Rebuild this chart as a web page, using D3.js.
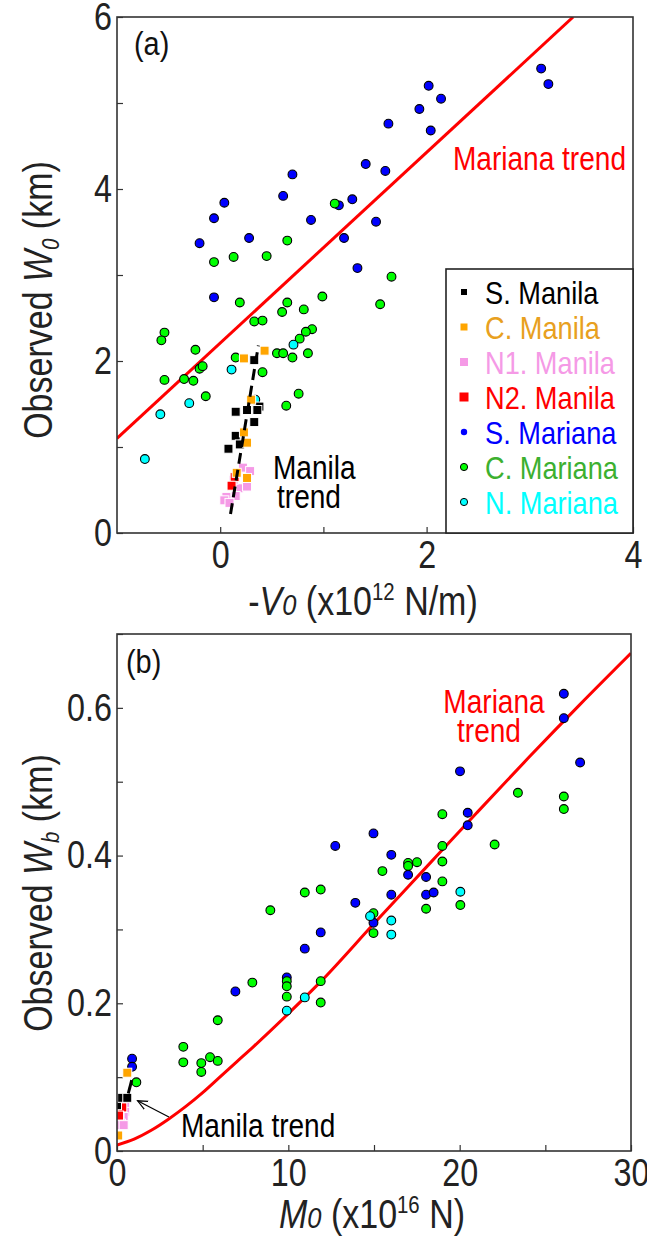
<!DOCTYPE html>
<html><head><meta charset="utf-8">
<script src="https://cdn.jsdelivr.net/npm/d3@7"></script>
<style>
body{margin:0;background:#fff}
svg{display:block}
text{font-family:'Liberation Sans',Arial,sans-serif}
</style>
</head><body>
<svg id="c" width="647" height="1236"></svg>
<script>
// ---------- Panel (a) data : -V0 (x10^12 N/m) vs observed W0 (km) ----------
const aSMarianaX = [-0.20,-0.06,0.04,0.28,0.61,0.70,0.88,1.15,1.20,1.28,1.41,1.33,1.51,3.11,3.18,2.02,2.14,1.93,1.63,2.04,1.60,-0.06];
const aSMarianaY = [3.37,3.66,3.84,3.43,3.92,4.17,3.64,3.81,3.43,3.88,4.29,3.08,3.62,5.40,5.22,5.20,5.05,4.93,4.76,4.68,4.21,2.74];
const aCMarianaX = [-0.06,0.13,0.45,0.65,1.11,1.66,0.19,0.65,0.60,0.81,0.99,1.55,0.33,0.41,-0.54,-0.57,-0.24,0.89,0.83,0.77,0.55,0.61,0.85,0.70,0.15,0.41,-0.20,-0.17,-0.35,-0.26,-0.54,-0.14,0.76,0.64];
const aCMarianaY = [3.15,3.21,3.22,3.40,3.83,2.98,2.68,2.68,2.57,2.60,2.75,2.66,2.46,2.47,2.33,2.24,2.13,2.37,2.34,2.26,2.09,2.09,2.09,2.04,2.04,1.87,1.91,1.94,1.79,1.77,1.78,1.59,1.62,1.48];
const aNMarianaX = [0.71,0.11,-0.30,-0.58,-0.73,0.34];
const aNMarianaY = [2.19,1.90,1.51,1.38,0.86,1.55];
const aSManilaX = [0.38,0.33,0.15,0.26,0.36,0.33,0.15,0.19,0.08];
const aSManilaY = [1.47,2.01,1.41,1.43,1.43,1.29,1.13,1.03,0.98];
const aCManilaX = [0.23,0.43,0.30,0.23,0.26,0.16,0.26];
const aCManilaY = [2.03,2.12,1.55,1.17,1.05,0.70,0.64];
const aN1ManilaX = [0.22,0.29,0.18,0.26,0.15,0.06,0.04,0.09,0.13];
const aN1ManilaY = [0.76,0.72,0.52,0.54,0.43,0.42,0.38,0.35,0.62];
const aN2ManilaX = [0.14,0.11];
const aN2ManilaY = [0.65,0.55];
const aMarianaTrendX = [-1.0, 3.42];
const aMarianaTrendY = [1.10, 6.0];
const aManilaTrendX = [0.10, 0.37];
const aManilaTrendY = [0.22, 2.18];

// ---------- Panel (b) data : M0 (x10^16 N) vs observed Wb (km) ----------
const bSMarianaX = [0.88,0.88,6.91,9.91,10.96,11.89,12.74,13.91,14.97,14.97,16.01,16.01,16.99,18.04,18.04,18.48,20.02,20.47,20.47,26.08,26.08,27.03];
const bSMarianaY = [0.125,0.114,0.216,0.235,0.274,0.296,0.413,0.336,0.430,0.309,0.401,0.347,0.374,0.371,0.347,0.350,0.514,0.458,0.441,0.619,0.586,0.526];
const bCMarianaX = [1.13,3.87,3.87,4.92,4.92,5.43,5.88,5.88,7.90,8.95,9.91,9.91,9.91,10.96,11.89,11.89,11.89,14.97,14.97,15.49,16.99,16.99,17.51,18.04,18.99,18.99,18.99,18.99,20.04,22.04,23.40,26.08,26.08];
const bCMarianaY = [0.093,0.141,0.120,0.119,0.107,0.127,0.122,0.177,0.228,0.326,0.230,0.223,0.209,0.350,0.354,0.230,0.201,0.322,0.295,0.379,0.390,0.386,0.391,0.328,0.392,0.365,0.456,0.413,0.333,0.415,0.485,0.480,0.463];
const bNMarianaX = [9.91,10.96,14.77,16.01,16.01,20.04];
const bNMarianaY = [0.190,0.208,0.318,0.312,0.293,0.351];
const bSManilaX = [0.0,0.3,0.6];
const bSManilaY = [0.062,0.072,0.072];
const bCManilaX = [0.60,0.07];
const bCManilaY = [0.106,0.021];
const bN1ManilaX = [0.48,0.48,0.39,0.24,0.02,0.39,0.15];
const bN1ManilaY = [0.063,0.053,0.046,0.037,0.035,0.035,0.050];
const bN2ManilaX = [0.31,0.12];
const bN2ManilaY = [0.059,0.048];
const bMarianaTrendX = [0,1,2,3,4,5,6,7,8,10,12,15,18,21,24,27,30];
const bMarianaTrendY = [0.008,0.016,0.028,0.043,0.060,0.079,0.100,0.121,0.142,0.186,0.232,0.308,0.383,0.458,0.532,0.604,0.674];
const bManilaTrendX = [0.66,0.86];
const bManilaTrendY = [0.078,0.096];
const bArrowX = [3.03,1.2];
const bArrowY = [0.046,0.068];

// ---------- Tick labels ----------
const aXTicks = [0,1,2,3,4];
const aXLabels = ["0","","2","","4"];
const aYTicks = [0,1,2,3,4,5,6];
const aYLabels = ["0","","2","","4","","6"];
const bXTicks = [0,5,10,15,20,25,30];
const bXLabels = ["0","","10","","20","","30"];
const bYTicks = [0,0.1,0.2,0.3,0.4,0.5,0.6,0.7];
const bYLabels = ["0","","0.2","","0.4","","0.6",""];

const legendNames = ["S. Manila","C. Manila","N1. Manila","N2. Manila","S. Mariana","C. Mariana","N. Mariana"];

// ---------- styles ----------
const COL = {sMan:"#000000", cMan:"#ffa500", n1Man:"#f59ae6", n2Man:"#ff0000", sMar:"#0000ff", cMar:"#00ff00", nMar:"#00ffff"};
const legendText = ["#000000","#e8a020","#f59ae6","#ff0000","#0000ff","#3cb030","#00ffff"];
const FS = 38;      // tick labels
const FT = 40;      // axis titles
const NARROW = 0.85;

const svg = d3.select("#c");
const defs = svg.append("defs");
defs.append("marker").attr("id","arrow").attr("viewBox","-10 -6 12 12").attr("refX",0).attr("refY",0)
  .attr("markerWidth",12).attr("markerHeight",12).attr("markerUnits","userSpaceOnUse").attr("orient","auto")
  .append("path").attr("d","M-10,-4.5 L0,0 L-10,4.5").attr("fill","none").attr("stroke","#000").attr("stroke-width",1.2);

function zip(xs, ys){ return xs.map((x,i)=>[x, ys[i]]); }

function panel(opt){
  const {x, y, id} = opt;
  const [x0,x1] = x.range(), [y0,y1] = y.range();
  defs.append("clipPath").attr("id","clip"+id).append("rect")
    .attr("x",x0).attr("y",y1).attr("width",x1-x0).attr("height",y0-y1);
  const g = svg.append("g");

  const ax = d3.axisBottom(x).tickValues(opt.xTicks).tickSize(-6).tickPadding(8)
    .tickFormat((d,i)=>opt.xLabels[i]);
  const gx = g.append("g").attr("transform",`translate(0,${y0})`).call(ax);
  const ay = d3.axisLeft(y).tickValues(opt.yTicks).tickSize(-6).tickPadding(5)
    .tickFormat((d,i)=>opt.yLabels[i]);
  const gy = g.append("g").attr("transform",`translate(${x0},0)`).call(ay);
  [gx,gy].forEach(a=>{
    a.select(".domain").remove();
    a.selectAll("line").attr("stroke","#333").attr("stroke-width",1.2);
    a.selectAll("text").attr("font-size",FS).attr("fill","#222")
      .style("font-family","'Liberation Sans',Arial,sans-serif");
  });

  const pg = g.append("g").attr("clip-path",`url(#clip${id})`);
  pg.append("path").datum(opt.marTrend)
    .attr("d", d3.line().x(d=>x(d[0])).y(d=>y(d[1])).curve(d3.curveMonotoneX))
    .attr("fill","none").attr("stroke","#ff0000").attr("stroke-width",3);

  const circ = (data, col) => pg.append("g").selectAll("circle").data(data).join("circle")
    .attr("cx",d=>x(d[0])).attr("cy",d=>y(d[1])).attr("r",4.4)
    .attr("fill",col).attr("stroke","#000").attr("stroke-width",1.1);
  circ(opt.sMar, COL.sMar);
  circ(opt.cMar, COL.cMar);
  circ(opt.nMar, COL.nMar);

  const sq = (data, col) => pg.append("g").selectAll("rect").data(data).join("rect")
    .attr("x",d=>x(d[0])-4.5).attr("y",d=>y(d[1])-4.5).attr("width",9).attr("height",9)
    .attr("fill",col).attr("stroke","#fff").attr("stroke-width",1);
  sq(opt.n1Man, COL.n1Man);
  sq(opt.n2Man, COL.n2Man);
  sq(opt.sMan, COL.sMan);
  sq(opt.cMan, COL.cMan);

  pg.append("path").datum(opt.manTrend)
    .attr("d", d3.line().x(d=>x(d[0])).y(d=>y(d[1])))
    .attr("fill","none").attr("stroke","#000").attr("stroke-width",3)
    .attr("stroke-dasharray", opt.dash);

  g.append("rect").attr("x",x0).attr("y",y1).attr("width",x1-x0).attr("height",y0-y1)
    .attr("fill","none").attr("stroke","#333").attr("stroke-width",1.6);
  return g;
}

// ---------- Panel (a) ----------
const xA = d3.scaleLinear().domain([-1,4]).range([117,633]);
const yA = d3.scaleLinear().domain([0,6]).range([533,17]);
panel({id:"a", x:xA, y:yA, xTicks:aXTicks, xLabels:aXLabels, yTicks:aYTicks, yLabels:aYLabels,
  marTrend: zip(aMarianaTrendX, aMarianaTrendY),
  manTrend: zip(aManilaTrendX, aManilaTrendY), dash:"11,6",
  sMar: zip(aSMarianaX,aSMarianaY), cMar: zip(aCMarianaX,aCMarianaY), nMar: zip(aNMarianaX,aNMarianaY),
  sMan: zip(aSManilaX,aSManilaY), cMan: zip(aCManilaX,aCManilaY), n1Man: zip(aN1ManilaX,aN1ManilaY), n2Man: zip(aN2ManilaX,aN2ManilaY)});

// ---------- Panel (b) ----------
const xB = d3.scaleLinear().domain([0,30]).range([117,631]);
const yB = d3.scaleLinear().domain([0,0.7]).range([1151,634]);
panel({id:"b", x:xB, y:yB, xTicks:bXTicks, xLabels:bXLabels, yTicks:bYTicks, yLabels:bYLabels,
  marTrend: zip(bMarianaTrendX, bMarianaTrendY),
  manTrend: zip(bManilaTrendX, bManilaTrendY), dash:null,
  sMar: zip(bSMarianaX,bSMarianaY), cMar: zip(bCMarianaX,bCMarianaY), nMar: zip(bNMarianaX,bNMarianaY),
  sMan: zip(bSManilaX,bSManilaY), cMan: zip(bCManilaX,bCManilaY), n1Man: zip(bN1ManilaX,bN1ManilaY), n2Man: zip(bN2ManilaX,bN2ManilaY)});

// ---------- Annotations ----------
const T = (x,y,txt,col,anchor,fs) => svg.append("text").attr("x",x).attr("y",y).attr("fill",col||"#000")
  .attr("font-size",fs||33).attr("text-anchor",anchor||"start").text(txt);

T(134,55,"(a)","#111",null,34);
T(126,673,"(b)","#111",null,34);
T(453,170,"Mariana trend","#ff0000");
T(273,479,"Manila","#000");
T(277,508,"trend","#000");
T(494,713,"Mariana","#ff0000","middle");
T(489,742,"trend","#ff0000","middle");
T(181,1137,"Manila trend","#000");
svg.append("line").attr("x1",xB(bArrowX[0])).attr("y1",yB(bArrowY[0])).attr("x2",xB(bArrowX[1])).attr("y2",yB(bArrowY[1]))
  .attr("stroke","#000").attr("stroke-width",1.2).attr("marker-end","url(#arrow)");

// ---------- Legend ----------
const lg = svg.append("g");
lg.append("rect").attr("x",446).attr("y",269).attr("width",187).attr("height",264)
  .attr("fill","#fff").attr("stroke","#222").attr("stroke-width",1.6);
const legCols = [COL.sMan,COL.cMan,COL.n1Man,COL.n2Man,COL.sMar,COL.cMar,COL.nMar];
const sqSize = [6,7,8,9];
legendNames.forEach((n,i)=>{
  const cy = 292 + i*35;
  if(i<4){
    lg.append("rect").attr("x",464-sqSize[i]/2).attr("y",cy-sqSize[i]/2).attr("width",sqSize[i]).attr("height",sqSize[i]).attr("fill",legCols[i]);
  } else {
    lg.append("circle").attr("cx",464).attr("cy",cy).attr("r",i===4?3.2:3.6).attr("fill",legCols[i])
      .attr("stroke",i===4?"none":"#000").attr("stroke-width",1);
  }
  lg.append("text").attr("x",485).attr("y",cy+12).attr("font-size",32).attr("fill",legendText[i]).text(n);
});

// ---------- Axis titles ----------
function yTitle(cx, cy, sub){
  const t = svg.append("text").attr("transform",`translate(${cx},${cy}) rotate(-90)`)
    .attr("text-anchor","middle").attr("font-size",FT).attr("fill","#222");
  t.append("tspan").text("Observed ");
  t.append("tspan").attr("font-style","italic").text("W");
  t.append("tspan").attr("font-style","italic").attr("font-size",FT*0.6).attr("dy",7).text(sub);
  t.append("tspan").attr("dy",-7).text(" (km)");
}
yTitle(52, 300, "0");
yTitle(52, 893, "b");

function xTitle(cx, y, pre, sym, sup, unit){
  const t = svg.append("text").attr("x",cx).attr("y",y).attr("text-anchor","middle").attr("font-size",FT).attr("fill","#222");
  if(pre) t.append("tspan").text(pre);
  t.append("tspan").attr("font-style","italic").text(sym);
  t.append("tspan").attr("font-style","italic").attr("font-size",FT*0.75).text("0");
  t.append("tspan").text(" (x10");
  t.append("tspan").attr("font-size",FT*0.6).attr("dy",-15).text(sup);
  t.append("tspan").attr("dy",15).text(unit);
}
xTitle(363, 615, "-", "V", "12", " N/m)");
xTitle(372, 1228, null, "M", "16", " N)");

// ---------- condense every text horizontally (narrow face look) ----------
svg.selectAll("text").each(function(){
  const s = d3.select(this);
  const x = +(s.attr("x")||0), y = +(s.attr("y")||0);
  const tr = s.attr("transform")||"";
  s.attr("x",null).attr("y",null)
   .attr("transform",`${tr} translate(${x},${y}) scale(${NARROW},1)`);
});
</script>
</body></html>
